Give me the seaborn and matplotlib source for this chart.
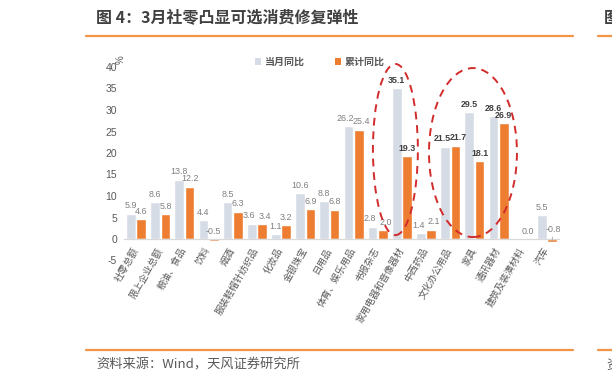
import numpy as np
import pandas as pd
import matplotlib
matplotlib.use("Agg")
import matplotlib.pyplot as plt
import matplotlib.transforms as mtransforms
from matplotlib.patches import Ellipse, Patch
from matplotlib.lines import Line2D
import seaborn as sns

categories = ["社零总额", "限上企业总额", "粮油、食品", "饮料", "烟酒", "服装鞋帽针纺织品",
              "化妆品", "金银珠宝", "日用品", "体育、娱乐用品", "书报杂志", "家用电器和音像器材",
              "中西药品", "文化办公用品", "家具", "通讯器材", "建筑及装潢材料", "汽车"]
monthly_yoy = [5.9, 8.6, 13.8, 4.4, 8.5, 3.6, 1.1, 10.6, 8.8, 26.2, 2.8, 35.1,
               1.4, 21.5, 29.5, 28.6, np.nan, 5.5]
cumulative_yoy = [4.6, 5.8, 12.2, -0.5, 6.3, 3.4, 3.2, 6.9, 6.8, 25.4, 2.0, 19.3,
                  2.1, 21.7, 18.1, 26.9, 0.0, -0.8]
series_names = ["当月同比", "累计同比"]
highlighted = ["家用电器和音像器材", "文化办公用品", "家具", "通讯器材"]
yticks = [-5, 0, 5, 10, 15, 20, 25, 30, 35, 40]

sns.set_theme(style="white")
plt.rcParams["font.family"] = ["Noto Sans CJK SC", "DejaVu Sans"]
plt.rcParams["axes.unicode_minus"] = False

df = pd.DataFrame({
    "category": categories * 2,
    "series": [series_names[0]] * len(categories) + [series_names[1]] * len(categories),
    "value": monthly_yoy + cumulative_yoy,
})

c_month = "#D6DCE5"
c_cum = "#ED7D31"
gray = "#595959"
num_font = ["Liberation Sans", "DejaVu Sans"]

fig = plt.figure(figsize=(6.12, 3.84), dpi=100)
W, H = 612, 384
ax = fig.add_axes([124 / W, 1 - 260.5 / H, (559 - 124) / W, (260.5 - 67) / H])

sns.barplot(data=df, x="category", y="value", hue="series", order=categories,
            hue_order=series_names, palette=[c_month, c_cum], width=0.86, gap=0.06,
            ax=ax, legend=False, saturation=1)

ax.set_ylim(-5, 40)
ax.set_xlim(-0.5, len(categories) - 0.5)
ax.set_yticks(yticks)
ax.set_xlabel("")
ax.set_ylabel("")
for s in ["left", "top", "right"]:
    ax.spines[s].set_visible(False)
ax.spines["bottom"].set_position(("data", 0))
ax.spines["bottom"].set_color("#D9D9D9")
ax.spines["bottom"].set_linewidth(0.9)
ax.tick_params(axis="y", length=0, labelsize=7.5, labelcolor=gray, pad=5)
for lab in ax.get_yticklabels():
    lab.set_family(num_font)
ax.tick_params(axis="x", length=0, labelsize=6.8, labelcolor=gray, pad=5)
off = mtransforms.ScaledTranslation(4 / 100, 0, fig.dpi_scale_trans)
for lab in ax.get_xticklabels():
    lab.set_rotation(60)
    lab.set_ha("right")
    lab.set_va("top")
    lab.set_transform(lab.get_transform() + off)

# value labels
for si, cont in enumerate(ax.containers):
    for rect in cont:
        h = rect.get_height()
        if np.isnan(h):
            continue
        xc = rect.get_x() + rect.get_width() / 2
        idx = int(round(xc))
        bold = categories[idx] in highlighted
        top = max(h, 0)
        txt = f"{h:.1f}"
        m, c = monthly_yoy[idx], cumulative_yoy[idx]
        dx = 0
        if not (np.isnan(m) or np.isnan(c)) and abs(m - c) < 1.0:
            dx = -2 if si == 0 else 2
        if h < -0.6:
            ax.annotate(txt, xy=(xc, h / 2), xytext=(xc + 0.05, 1.2), ha="center", va="bottom",
                        fontsize=6.4, color="#7F7F7F", family=num_font,
                        arrowprops=dict(arrowstyle="-", color="#A6A6A6", lw=0.6, shrinkA=0, shrinkB=0))
        else:
            ax.annotate(txt, xy=(xc, top), xytext=(dx, 2.5), textcoords="offset points",
                        ha="center", va="bottom", fontsize=6.4,
                        color="#404040" if bold else "#7F7F7F",
                        fontweight="bold" if bold else "normal", family=num_font)

# dashed highlight ellipses
for cx, cy, w, hgt in [(10.73, 20.8, 1.86, 39.8), (13.94, 20.1, 3.64, 39.3)]:
    e = Ellipse((cx, cy), w, hgt, fill=False, edgecolor="#D22B2B", lw=1.4,
                linestyle=(0, (4, 3)), clip_on=False, zorder=5)
    ax.add_patch(e)

# % unit
fig.text(121 / W, 1 - 60 / H, "%", rotation=90, fontsize=7, color=gray, ha="center", va="center",
         family=num_font)

# legend
handles = [Patch(facecolor=c_month, edgecolor="none"), Patch(facecolor=c_cum, edgecolor="none")]
leg = ax.legend(handles, series_names, loc="center left", bbox_to_anchor=(246 / W, 1 - 62 / H),
                bbox_transform=fig.transFigure, ncol=2, frameon=False, handlelength=0.6,
                handleheight=0.6, handletextpad=0.4, columnspacing=3.0,
                prop={"weight": "bold", "size": 7.2})
for t in leg.get_texts():
    t.set_color(gray)

# page decorations
fig.text(96 / W, 1 - 18 / H, "图 4：3月社零凸显可选消费修复弹性", fontsize=11.5, fontweight="bold",
         color="#404040", ha="left", va="center")
fig.text(604 / W, 1 - 18 / H, "图", fontsize=11.5, fontweight="bold", color="#404040",
         ha="left", va="center")
orange = "#F29446"
fig.add_artist(Line2D([86 / W, 573 / W], [1 - 36 / H] * 2, color=orange, lw=1.6))
fig.add_artist(Line2D([598 / W, 1], [1 - 36 / H] * 2, color=orange, lw=1.6))
fig.add_artist(Line2D([86 / W, 573 / W], [1 - 350 / H] * 2, color=orange, lw=1.6))
fig.add_artist(Line2D([598 / W, 1], [1 - 350 / H] * 2, color=orange, lw=1.6))
fig.text(96 / W, 1 - 365 / H, "资料来源：Wind，天风证券研究所", fontsize=9.5, color=gray,
         ha="left", va="center")
fig.text(606 / W, 1 - 365 / H, "资", fontsize=9.5, color=gray, ha="left", va="center")

fig.savefig("out.png", dpi=100)
